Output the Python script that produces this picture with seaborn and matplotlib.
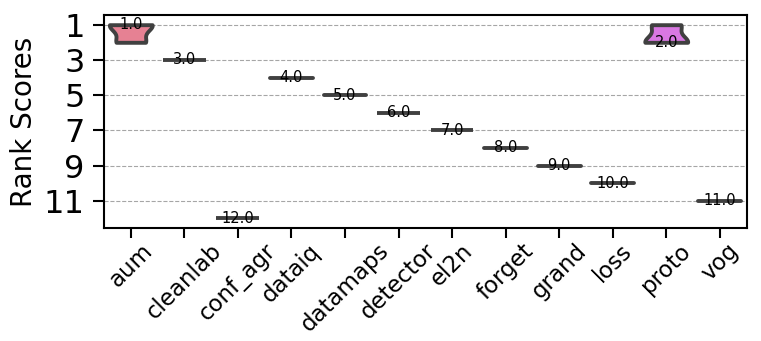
import numpy as np
import pandas as pd
import matplotlib
matplotlib.use("Agg")
import matplotlib.pyplot as plt
import seaborn as sns

# rank of each method over the runs (1 = best)
methods = ["aum", "cleanlab", "conf_agr", "dataiq", "datamaps", "detector",
           "el2n", "forget", "grand", "loss", "proto", "vog"]
aum = [1, 1, 1, 2, 2]
cleanlab = [3, 3, 3, 3, 3]
conf_agr = [12, 12, 12, 12, 12]
dataiq = [4, 4, 4, 4, 4]
datamaps = [5, 5, 5, 5, 5]
detector = [6, 6, 6, 6, 6]
el2n = [7, 7, 7, 7, 7]
forget = [8, 8, 8, 8, 8]
grand = [9, 9, 9, 9, 9]
loss = [10, 10, 10, 10, 10]
proto = [2, 2, 2, 1, 1]
vog = [11, 11, 11, 11, 11]
yticks = [1, 3, 5, 7, 9, 11]

ranks = [aum, cleanlab, conf_agr, dataiq, datamaps, detector,
         el2n, forget, grand, loss, proto, vog]
df = pd.DataFrame({
    "method": np.repeat(methods, [len(r) for r in ranks]),
    "rank": np.concatenate(ranks),
})

sns.set_style("ticks")
fig, ax = plt.subplots(figsize=(7.61, 3.41), dpi=100)
fig.subplots_adjust(left=0.1367, right=0.981, top=0.956, bottom=0.331)

sns.violinplot(data=df, x="method", y="rank", hue="method", order=methods,
               hue_order=methods, palette="husl", cut=0, inner=None,
               linewidth=2.8, legend=False, ax=ax)

medians = df.groupby("method")["rank"].median()
for i, m in enumerate(methods):
    ax.text(i, medians[m], f"{medians[m]:.1f}", ha="center", va="center",
            fontsize=10.5, color="black")

ax.invert_yaxis()
ax.set_yticks(yticks)
ax.yaxis.grid(True, linestyle="--", color="gray", alpha=0.7, linewidth=0.8)
ax.set_axisbelow(True)
ax.set_xlabel("")
ax.set_ylabel("Rank Scores", fontsize=20, color="black")
ax.tick_params(axis="y", labelsize=23, length=8, width=1.5, colors="black", pad=6)
ax.tick_params(axis="x", labelsize=16.5, length=7, width=1.5, colors="black",
               labelrotation=45, pad=1)
for s in ax.spines.values():
    s.set_linewidth(1.5)
    s.set_color("black")

fig.savefig("out.png", dpi=100)
